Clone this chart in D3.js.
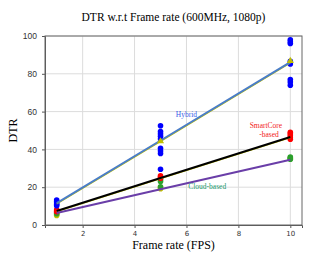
<meta charset="utf-8">
<script src="https://d3js.org/d3.v7.js"></script>
<style>
body { margin: 0; background: white; }
svg { font-family: 'Liberation Serif', 'DejaVu Serif', serif; }
</style>
<div id="chart"></div>
<script>
const frameRates = [1, 5, 10];
const xTicks = [2, 4, 6, 8, 10];
const yTicks = [0, 20, 40, 60, 80, 100];

// mean lines
const hybridMean = [11.6, 44.7, 86.2];
const smartMean = [7.4, 24.9, 46.6];
const cloudMean = [6.3, 18.9, 34.5];

// raw samples per frame rate
const hybridPts = [
  [13.2, 12.4, 11.6, 10.8, 10.2],
  [52.5, 49.5, 48.3, 47, 45.5, 40.6, 39.2, 37.8, 29.5],
  [98, 97, 96, 86.6, 85.2, 77, 75.6, 74]
];
const smartPts = [[8, 7.4, 7], [26, 25.4, 24.8], [49, 48.2, 47.2, 46.2, 45.4]];
const cloudPts = [[6.6, 6], [24, 23, 20.2], [36, 35.4, 34.8]];
const yellowPts = [[5.6, 5], [19.8, 19.2], [35.2]];
const triMean = [[5, 44.3], [10, 86.8]];

const labels = [
  {text: "Hybrid", x: 6.0, y: 57.2, color: "#3a5ee8"},
  {text: "SmartCore", x: 9.06, y: 51.3, color: "#f21c1c"},
  {text: "-based", x: 9.18, y: 46.6, color: "#f21c1c"},
  {text: "Cloud-based", x: 6.8, y: 19.3, color: "#1f9a6e"}
];

const W = 318, H = 256;
const margin = {top: 36, right: 16, bottom: 31, left: 45};
const width = W - margin.left - margin.right,
      height = H - margin.top - margin.bottom;

const svg = d3.select("#chart").append("svg")
  .attr("width", W).attr("height", H);

svg.append("text")
  .attr("x", margin.left + width / 2).attr("y", 21)
  .attr("text-anchor", "middle").attr("font-size", 11.5)
  .text("DTR w.r.t Frame rate (600MHz, 1080p)");

const g = svg.append("g").attr("transform", "translate(" + margin.left + "," + margin.top + ")");

const x = d3.scaleLinear().domain([0.55, 10.45]).range([0, width]);
const y = d3.scaleLinear().domain([0, 100]).range([height, 0]);

// grid
g.append("g").selectAll("line").data(xTicks).enter().append("line")
  .attr("x1", d => x(d)).attr("x2", d => x(d)).attr("y1", 0).attr("y2", height)
  .attr("stroke", "#dcdcdc").attr("stroke-width", 1);
g.append("g").selectAll("line").data(yTicks.slice(1)).enter().append("line")
  .attr("x1", 0).attr("x2", width).attr("y1", d => y(d)).attr("y2", d => y(d))
  .attr("stroke", "#dcdcdc").attr("stroke-width", 1);

// axes
const xAxis = g.append("g").attr("transform", "translate(0," + height + ")")
  .call(d3.axisBottom(x).tickValues(xTicks).tickSize(3).tickPadding(3));
xAxis.selectAll("text").attr("font-family", "'DejaVu Sans', sans-serif").attr("font-size", 7).attr("fill", "#333");
const yAxis = g.append("g")
  .call(d3.axisLeft(y).tickValues(yTicks).tickSize(3).tickPadding(5));
yAxis.selectAll("text").attr("font-size", 8.5).attr("fill", "#333");
g.selectAll(".domain").attr("stroke", "#555");
g.selectAll(".tick line").attr("stroke", "#555");
g.append("rect").attr("width", width).attr("height", height)
  .attr("fill", "none").attr("stroke", "#666").attr("stroke-width", 1);

// axis titles
svg.append("text")
  .attr("x", margin.left + width / 2).attr("y", 249)
  .attr("text-anchor", "middle").attr("font-size", 12)
  .text("Frame rate (FPS)");
svg.append("text")
  .attr("transform", "translate(17," + (margin.top + height / 2) + ") rotate(-90)")
  .attr("text-anchor", "middle").attr("font-size", 12)
  .text("DTR");

function dots(pts, color, r) {
  const flat = [];
  pts.forEach((vals, i) => vals.forEach(v => flat.push([frameRates[i], v])));
  g.append("g").selectAll("circle").data(flat).enter().append("circle")
    .attr("cx", d => x(d[0])).attr("cy", d => y(d[1]))
    .attr("r", r).attr("fill", color);
}

function meanLine(vals, color, w) {
  const line = d3.line().x((d, i) => x(frameRates[i])).y(d => y(d));
  g.append("path").datum(vals).attr("d", line)
    .attr("fill", "none").attr("stroke", color).attr("stroke-width", w);
}

dots(yellowPts, "#bfbf00", 2.8);
dots(cloudPts, "#2ca02c", 2.8);
dots(smartPts, "#ff0000", 2.8);
dots(hybridPts, "#0000ff", 2.8);

meanLine(hybridMean.map(v => v - 0.5), "#bfbf00", 1.2);
meanLine(smartMean.map(v => v - 0.4), "#bfbf00", 1.2);
meanLine(hybridMean, "#4a7dc8", 2);
meanLine(smartMean, "#000000", 2);
meanLine(cloudMean, "#6a3ea8", 2);

g.append("g").selectAll("path").data(triMean).enter().append("path")
  .attr("d", d3.symbol().type(d3.symbolTriangle).size(22))
  .attr("transform", d => "translate(" + x(d[0]) + "," + y(d[1]) + ")")
  .attr("fill", "#bfbf00");

g.append("g").selectAll("text").data(labels).enter().append("text")
  .attr("x", d => x(d.x)).attr("y", d => y(d.y))
  .attr("text-anchor", "middle").attr("font-size", 7.5)
  .attr("fill", d => d.color).text(d => d.text);
</script>
